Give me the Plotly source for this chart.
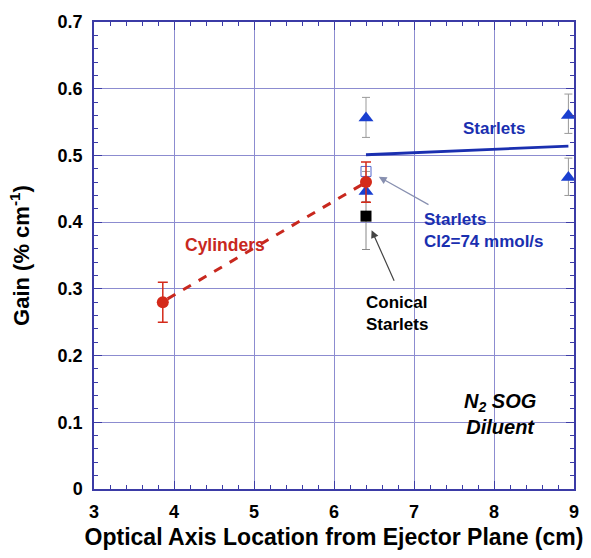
import plotly.graph_objects as go

# Data
cyl_x = [3.86, 6.4]
cyl_y = [0.28, 0.46]
cyl_err = [0.03, 0.03]

star_x = [6.4, 6.4, 8.93, 8.93]
star_y = [0.556, 0.446, 0.560, 0.467]
star_err_plus = [0.031, 0.03, 0.032, 0.029]
star_err_minus = [0.029, 0.015, 0.027, 0.027]

cl2_x = [6.4]
cl2_y = [0.476]

con_x = [6.4]
con_y = [0.409]
con_err_plus = [0.045]
con_err_minus = [0.05]

cyl_fit_x = [3.92, 6.36]
cyl_fit_y = [0.285, 0.457]
star_fit_x = [6.4, 8.93]
star_fit_y = [0.501, 0.514]

FRAME = "#3b3ba6"
GRID = "#8c8cd0"
FONT = "Liberation Sans, Arial, sans-serif"

fig = go.Figure()
fig.add_trace(go.Scatter(x=cyl_fit_x, y=cyl_fit_y, mode="lines",
                         line=dict(color="#c8281e", width=3, dash="dash"), showlegend=False))
fig.add_trace(go.Scatter(x=star_fit_x, y=star_fit_y, mode="lines",
                         line=dict(color="#1a2fb0", width=2.8), showlegend=False))
fig.add_trace(go.Scatter(x=con_x, y=con_y, mode="markers",
                         marker=dict(symbol="square", size=11, color="black"),
                         error_y=dict(type="data", array=con_err_plus, arrayminus=con_err_minus,
                                      color="#888888", thickness=1, width=4),
                         showlegend=False))
fig.add_trace(go.Scatter(x=cl2_x, y=cl2_y, mode="markers",
                         marker=dict(symbol="square-open", size=10, color="#5566cc",
                                     line=dict(width=1)),
                         showlegend=False))
fig.add_trace(go.Scatter(x=star_x, y=star_y, mode="markers",
                         marker=dict(symbol="triangle-up", size=13, color="#1a3fd0"),
                         error_y=dict(type="data", array=star_err_plus, arrayminus=star_err_minus,
                                      color="#999999", thickness=1, width=4),
                         showlegend=False))
fig.add_trace(go.Scatter(x=cyl_x, y=cyl_y, mode="markers",
                         marker=dict(symbol="circle", size=12, color="#d42a1a"),
                         error_y=dict(type="data", array=cyl_err, color="#d42a1a",
                                      thickness=1.5, width=5),
                         showlegend=False))

ann_font = dict(family=FONT, size=17, color="#1a2fb0", weight="bold")
fig.add_annotation(x=8.0, y=0.54, text="Starlets", showarrow=False, font=ann_font)
fig.add_annotation(x=7.1, y=0.388, text="Starlets<br>Cl2=74 mmol/s", showarrow=False,
                   xanchor="left", align="left", font=ann_font)
fig.add_annotation(x=4.64, y=0.366, text="Cylinders", showarrow=False,
                   font=dict(family=FONT, size=17.5, color="#c8281e", weight="bold"))
fig.add_annotation(x=6.38, y=0.263, text="Conical<br>Starlets", showarrow=False,
                   xanchor="left", align="left",
                   font=dict(family=FONT, size=17, color="black", weight="bold"))
fig.add_annotation(x=8.07, y=0.112, text="<i>N<sub>2</sub> SOG<br>Diluent</i>", showarrow=False,
                   align="center", font=dict(family=FONT, size=20, color="black", weight="bold"))
# arrows
fig.add_annotation(x=6.56, y=0.468, ax=7.2, ay=0.425, xref="x", yref="y", axref="x", ayref="y",
                   text="", showarrow=True, arrowhead=2, arrowsize=1.3, arrowwidth=1.2,
                   arrowcolor="#8890b0")
fig.add_annotation(x=6.47, y=0.388, ax=6.76, ay=0.31, xref="x", yref="y", axref="x", ayref="y",
                   text="", showarrow=True, arrowhead=2, arrowsize=1.3, arrowwidth=1.2,
                   arrowcolor="#444444")

axis_common = dict(showline=True, linecolor=FRAME, linewidth=1.5, mirror="ticks",
                   ticks="inside", tickcolor=FRAME, ticklen=8, tickwidth=1,
                   showgrid=True, gridcolor=GRID, gridwidth=1, zeroline=False,
                   tickfont=dict(family=FONT, size=18, color="black", weight="bold"))
fig.update_xaxes(range=[3, 9], dtick=1, tick0=3, ticklabelstandoff=6,
                 minor=dict(dtick=0.2, ticks="inside", ticklen=4, tickcolor=FRAME, showgrid=False),
                 title=dict(text="Optical Axis Location from Ejector Plane (cm)",
                            font=dict(family=FONT, size=23, color="black", weight="bold"), standoff=8),
                 **axis_common)
fig.update_yaxes(range=[0, 0.7], dtick=0.1, tick0=0, ticklabelstandoff=6,
                 minor=dict(dtick=0.02, ticks="inside", ticklen=4, tickcolor=FRAME, showgrid=False),
                 title=dict(text="Gain (% cm<sup>-1</sup>)",
                            font=dict(family=FONT, size=22, color="black", weight="bold"), standoff=22),
                 tickformat=".1~f", **axis_common)

fig.update_layout(width=591, height=558, margin=dict(l=94, r=17, t=17, b=67),
                  plot_bgcolor="white", paper_bgcolor="white", showlegend=False)
fig.write_html("out.html")
